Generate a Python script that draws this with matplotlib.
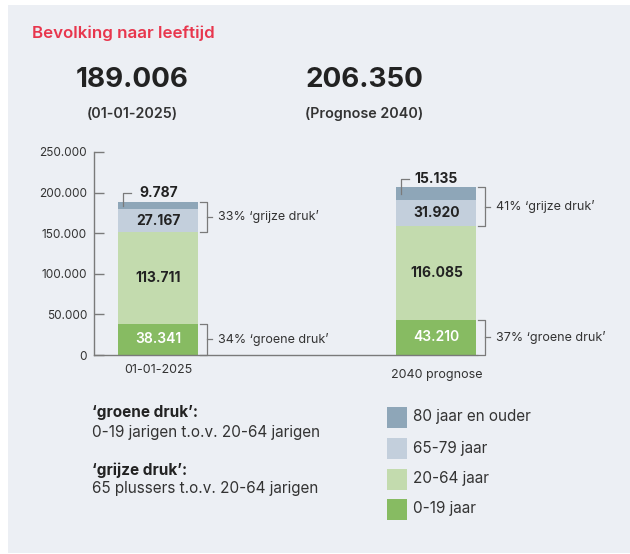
import matplotlib
matplotlib.use("Agg")
import matplotlib.pyplot as plt
from matplotlib.patches import Rectangle

# data
categories = ['01-01-2025', '2040 prognose']
totals_txt = ['189.006', '206.350']
sub_txt = ['(01-01-2025)', '(Prognose 2040)']
age_groups = ['0-19 jaar', '20-64 jaar', '65-79 jaar', '80 jaar en ouder']
jong = [38341, 43210]
midden = [113711, 116085]
oud = [27167, 31920]
oudst = [9787, 15135]
groene_druk = ['34%', '37%']
grijze_druk = ['33%', '41%']
yticks = [0, 50000, 100000, 150000, 200000, 250000]

colors = ['#87bb62', '#c3dbae', '#c3cfdc', '#8ea6b8']
bg = '#eceff4'
dark = '#222222'
grey_txt = '#333333'
line_col = '#7a7a7a'

plt.rcParams['font.family'] = ['Inter', 'DejaVu Sans']

W, H = 630, 554
fig = plt.figure(figsize=(W / 100, H / 100), dpi=100)
fig.patch.set_facecolor('white')


def fx(px):
    return px / W


def fy(py):
    return 1 - py / H


# grey panel
fig.add_artist(Rectangle((fx(8), fy(553)), fx(630) - fx(8), fy(5) - fy(553),
                         transform=fig.transFigure, facecolor=bg, edgecolor='none', zorder=-10))

fig.text(fx(32), fy(33), 'Bevolking naar leeftijd', color='#e8364d', fontsize=12.2,
         fontweight='semibold', va='center', ha='left')

head_x = [132, 364]
for i in range(2):
    fig.text(fx(head_x[i]), fy(80), totals_txt[i], color=dark, fontsize=20,
             fontweight='bold', ha='center', va='center')
    fig.text(fx(head_x[i]), fy(114), sub_txt[i], color=grey_txt, fontsize=10.3,
             fontweight='semibold', ha='center', va='center')

# axes
ax = fig.add_axes([fx(94), fy(355), fx(477) - fx(94), fy(152) - fy(355)])
ax.set_facecolor('none')
ax.set_ylim(0, 250000)
ax.set_xlim(-0.232, 1.146)
px = (1.146 + 0.232) / (477 - 94)  # data units per pixel on x
w = 80 * px
x = [0, 1]

bottoms = [0, 0]
for vals, c in zip([jong, midden, oud, oudst], colors):
    ax.bar(x, vals, width=w, bottom=bottoms, color=c, edgecolor='none', zorder=2)
    bottoms = [b + v for b, v in zip(bottoms, vals)]

for s in ['top', 'right']:
    ax.spines[s].set_visible(False)
for s in ['left', 'bottom']:
    ax.spines[s].set_color(line_col)
    ax.spines[s].set_linewidth(1)

ax.set_yticks(yticks)
ax.set_yticklabels([f"{v:,}".replace(',', '.') for v in yticks])
ax.tick_params(axis='y', direction='in', length=7, width=1, color=line_col,
               labelsize=8.5, labelcolor=grey_txt, pad=5)
ax.set_xticks([])

fmt = lambda v: f"{v:,}".replace(',', '.')
label_dy = [15, 20]
for i in range(2):
    # category labels under the axis
    ax.annotate(categories[i], (x[i], 0), xytext=(0, -label_dy[i]), textcoords='offset pixels',
                ha='center', va='center', fontsize=9, color=grey_txt, annotation_clip=False)
    # segment labels
    ax.text(x[i], jong[i] / 2, fmt(jong[i]), ha='center', va='center', color='white',
            fontsize=10, fontweight='semibold', zorder=3)
    ax.text(x[i], jong[i] + midden[i] / 2, fmt(midden[i]), ha='center', va='center',
            color=dark, fontsize=10, fontweight='bold', zorder=3)
    ax.text(x[i], jong[i] + midden[i] + oud[i] / 2, fmt(oud[i]), ha='center', va='center',
            color=dark, fontsize=10, fontweight='bold', zorder=3)
    top = jong[i] + midden[i] + oud[i] + oudst[i]
    ty = top + 10500
    ax.text(x[i], ty, fmt(oudst[i]), ha='center', va='center', color=dark,
            fontsize=10, fontweight='bold', zorder=3)
    # leader for 80+
    lx = x[i] - w / 2 + 5 * px
    ax.plot([lx, lx, lx + 8 * px], [top - oudst[i] / 2, ty, ty], color=line_col, lw=0.9,
            zorder=3, clip_on=False)

    # brackets
    right = x[i] + w / 2
    b0, b1 = right + 2 * px, right + 9 * px
    spans = [(0, jong[i], f"{groene_druk[i]} \u2018groene druk\u2019"),
             (jong[i] + midden[i], top, f"{grijze_druk[i]} \u2018grijze druk\u2019")]
    for lo, hi, txt in spans:
        mid = (lo + hi) / 2
        ax.plot([b0, b1, b1, b0], [lo, lo, hi, hi], color=line_col, lw=0.9, clip_on=False)
        ax.plot([b1, b1 + 5 * px], [mid, mid], color=line_col, lw=0.9, clip_on=False)
        ax.text(b1 + 11 * px, mid, txt, ha='left', va='center', fontsize=9,
                color=grey_txt, clip_on=False)

# explanation block
fig.text(fx(92), fy(413), '\u2018groene druk\u2019:', fontsize=11, fontweight='bold',
         color=dark, va='center')
fig.text(fx(92), fy(433), '0-19 jarigen t.o.v. 20-64 jarigen', fontsize=11,
         color=grey_txt, va='center')
fig.text(fx(92), fy(470), '\u2018grijze druk\u2019:', fontsize=11, fontweight='bold',
         color=dark, va='center')
fig.text(fx(92), fy(489), '65 plussers t.o.v. 20-64 jarigen', fontsize=11,
         color=grey_txt, va='center')

# legend
leg_y = [509, 479, 448, 417]
for name, c, yy in zip(age_groups, colors, leg_y):
    fig.add_artist(Rectangle((fx(387), fy(yy + 10.5)), fx(20), fy(0) - fy(21),
                             transform=fig.transFigure, facecolor=c, edgecolor='none'))
    fig.text(fx(413), fy(yy), name, fontsize=11, color=grey_txt, va='center')

fig.savefig('out.png', dpi=100, facecolor=fig.get_facecolor())
